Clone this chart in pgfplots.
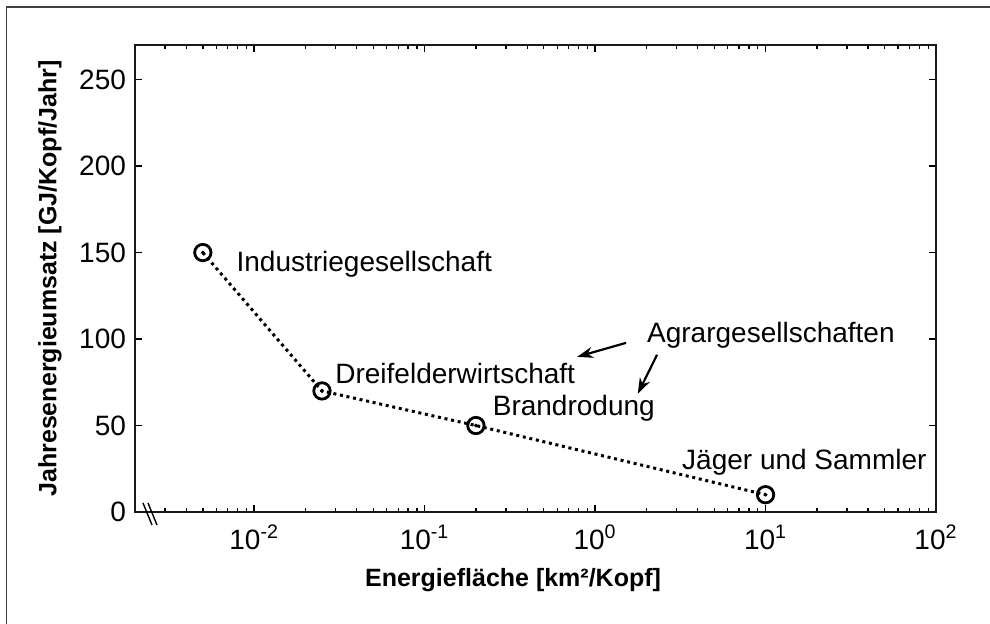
\documentclass[border=0pt]{standalone}
\usepackage{fontspec}
\setmainfont{Liberation Sans}
\usepackage{pgfplots}
\pgfplotsset{compat=1.18}
\usetikzlibrary{arrows.meta}

\begin{document}
\begin{tikzpicture}
\useasboundingbox (0,0) rectangle (495pt,-312pt);
% outer frame (pixel units, y downwards)
\begin{scope}[x=0.5pt,y=-0.5pt]
  \draw[line width=0.75pt, black!75] (6.5,630) -- (6.5,7) -- (1000,7);
\end{scope}

\begin{axis}[
    at={(67.5pt,-256pt)}, anchor=south west,
    scale only axis,
    width=400.5pt, height=233.5pt,
    xmode=log,
    xmin=0.002, xmax=100,
    ymin=0, ymax=270,
    xtick={0.01,0.1,1,10,100},
    xticklabels={10\textsuperscript{-2},10\textsuperscript{-1},10\textsuperscript{0},10\textsuperscript{1},10\textsuperscript{2}},
    minor xtick={0.003,0.004,0.005,0.006,0.007,0.008,0.009,
                 0.02,0.03,0.04,0.05,0.06,0.07,0.08,0.09,
                 0.2,0.3,0.4,0.5,0.6,0.7,0.8,0.9,
                 2,3,4,5,6,7,8,9,
                 20,30,40,50,60,70,80,90},
    ytick={0,50,100,150,200,250},
    tick align=inside,
    major tick length=3.5pt,
    minor tick length=1.8pt,
    every tick/.style={black, line width=0.7pt},
    axis line style={line width=1pt, black!90},
    tick label style={font=\fontsize{14}{16}\selectfont},
    xticklabel style={yshift=-3pt},
    yticklabel style={xshift=-1pt},
    /pgf/number format/assume math mode=true,
    label style={font=\bfseries\fontsize{12.5}{14}\selectfont},
    xlabel={Energiefläche [km²/Kopf]},
    ylabel={Jahresenergieumsatz [GJ/Kopf/Jahr]},
    xlabel style={at={(axis description cs:0.472,-0.146)}, anchor=center},
    ylabel style={at={(axis description cs:-0.106,0.5)}, anchor=center, rotate=0},
    clip=false,
]
\addplot[black, line width=1.5pt, line cap=butt, dash pattern=on 1.5pt off 1.85pt,
         mark=o, mark size=4.1pt, mark options={solid, line width=1.4pt}]
  coordinates {(0.005,150) (0.025,70) (0.2,50) (10,10)};
\addplot[black, only marks, mark=*, mark size=0.75pt]
  coordinates {(0.005,150) (0.025,70) (0.2,50) (10,10)};

\begin{scope}[every node/.style={inner sep=0pt, font=\fontsize{14}{16}\selectfont}]
  \node[anchor=base west] at (axis cs:0.00785,138.9) {Industriegesellschaft};
  \node[anchor=base west] at (axis cs:0.0298,74.1) {Dreifelderwirtschaft};
  \node[anchor=base west] at (axis cs:0.25,55.6) {Brandrodung};
  \node[anchor=base west] at (axis cs:2.01,97.8) {Agrargesellschaften};
  \node[anchor=base east] at (axis cs:88.5,24.3) {Jäger und Sammler};
\end{scope}
\draw[line width=1.1pt, -{Stealth[length=8pt,width=5.5pt]}] (axis cs:1.52,97.8) -- (axis cs:0.785,89.7);
\draw[line width=1.1pt, -{Stealth[length=8pt,width=5.5pt]}] (axis cs:2.31,90.9) -- (axis cs:1.78,68.3);
\end{axis}

% axis break mark
\begin{scope}[x=0.5pt,y=-0.5pt]
  \draw[line width=0.7pt] (143,503) -- (152,525);
  \draw[line width=0.7pt] (148,503) -- (157,525);
\end{scope}
\end{tikzpicture}
\end{document}
